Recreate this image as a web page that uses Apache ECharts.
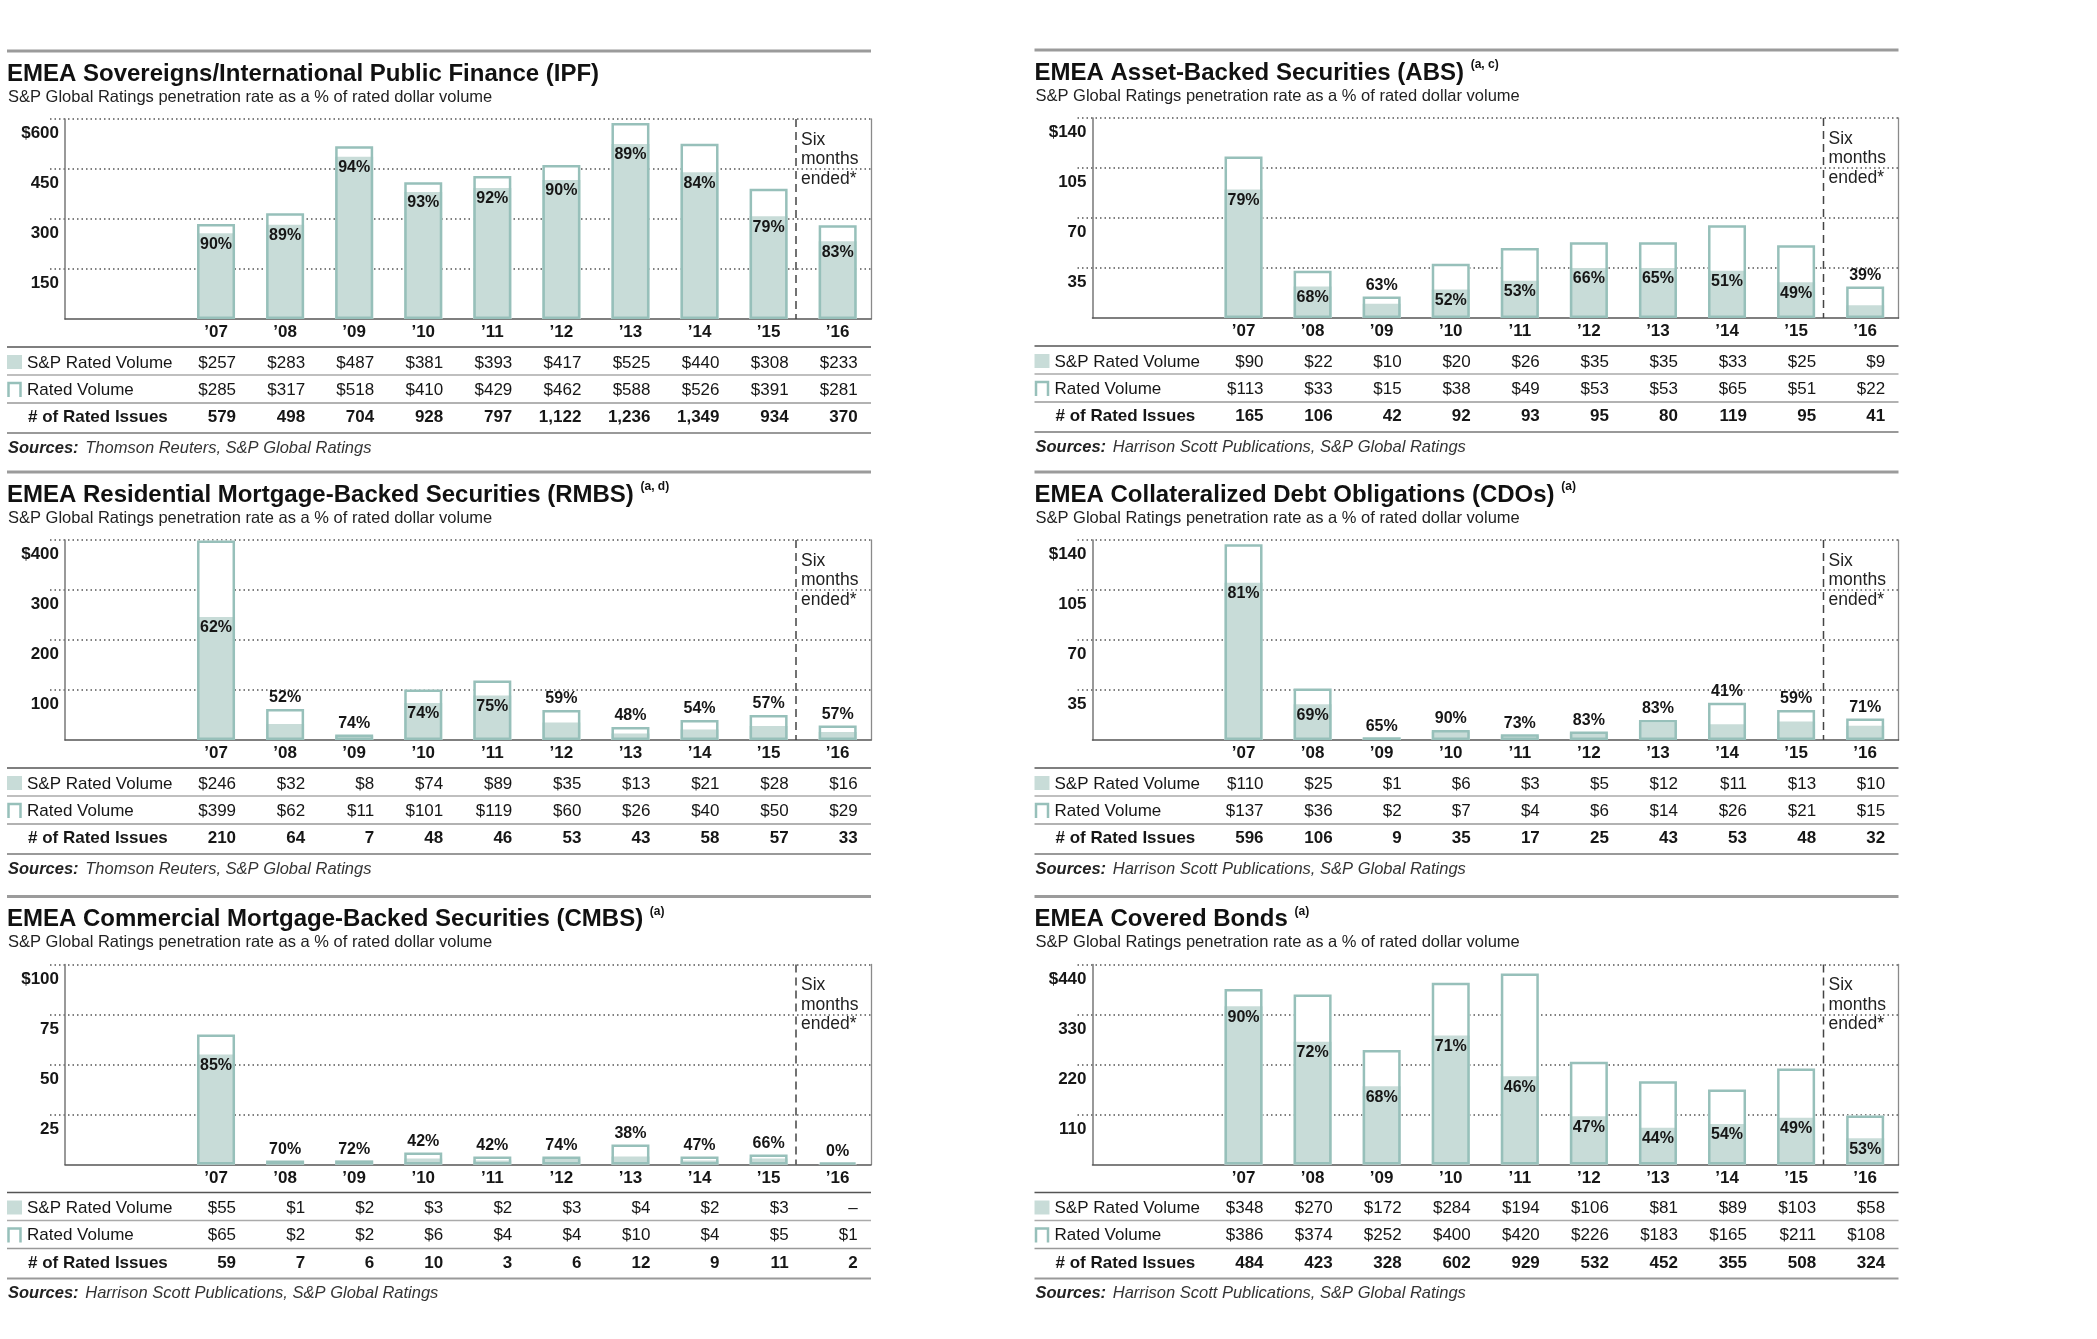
<!DOCTYPE html>
<html><head><meta charset="utf-8">
<script src="https://cdn.jsdelivr.net/npm/echarts@6/dist/echarts.min.js"></script>
<style>html,body{margin:0;padding:0;background:#fff}#c{width:2097px;height:1339px}</style>
</head><body><div id="c"></div>
<script>
// ---------- DATA ----------
const years = ['\u201907','\u201908','\u201909','\u201910','\u201911','\u201912','\u201913','\u201914','\u201915','\u201916'];

const ipfSp     = [257,283,487,381,393,417,525,440,308,233];
const ipfRated  = [285,317,518,410,429,462,588,526,391,281];
const ipfIssues = [579,498,704,928,797,1122,1236,1349,934,370];
const ipfPct    = [90,89,94,93,92,90,89,84,79,83];
const ipfTicks  = [0,150,300,450,600];

const absSp     = [90,22,10,20,26,35,35,33,25,9];
const absRated  = [113,33,15,38,49,53,53,65,51,22];
const absIssues = [165,106,42,92,93,95,80,119,95,41];
const absPct    = [79,68,63,52,53,66,65,51,49,39];
const absTicks  = [0,35,70,105,140];

const rmbsSp     = [246,32,8,74,89,35,13,21,28,16];
const rmbsRated  = [399,62,11,101,119,60,26,40,50,29];
const rmbsIssues = [210,64,7,48,46,53,43,58,57,33];
const rmbsPct    = [62,52,74,74,75,59,48,54,57,57];
const rmbsTicks  = [0,100,200,300,400];

const cdoSp     = [110,25,1,6,3,5,12,11,13,10];
const cdoRated  = [137,36,2,7,4,6,14,26,21,15];
const cdoIssues = [596,106,9,35,17,25,43,53,48,32];
const cdoPct    = [81,69,65,90,73,83,83,41,59,71];
const cdoTicks  = [0,35,70,105,140];

const cmbsSp     = [55,1,2,3,2,3,4,2,3,null];
const cmbsRated  = [65,2,2,6,4,4,10,4,5,1];
const cmbsIssues = [59,7,6,10,3,6,12,9,11,2];
const cmbsPct    = [85,70,72,42,42,74,38,47,66,0];
const cmbsTicks  = [0,25,50,75,100];

const cbSp     = [348,270,172,284,194,106,81,89,103,58];
const cbRated  = [386,374,252,400,420,226,183,165,211,108];
const cbIssues = [484,423,328,602,929,532,452,355,508,324];
const cbPct    = [90,72,68,71,46,47,44,54,49,53];
const cbTicks  = [0,110,220,330,440];

const panels = [
  {title:'EMEA Sovereigns/International Public Finance (IPF)', sup:'', src:'Thomson Reuters, S&P Global Ratings', sp:ipfSp, rated:ipfRated, issues:ipfIssues, pct:ipfPct, ticks:ipfTicks},
  {title:'EMEA Asset-Backed Securities (ABS)', sup:'(a, c)', src:'Harrison Scott Publications, S&P Global Ratings', sp:absSp, rated:absRated, issues:absIssues, pct:absPct, ticks:absTicks},
  {title:'EMEA Residential Mortgage-Backed Securities (RMBS)', sup:'(a, d)', src:'Thomson Reuters, S&P Global Ratings', sp:rmbsSp, rated:rmbsRated, issues:rmbsIssues, pct:rmbsPct, ticks:rmbsTicks},
  {title:'EMEA Collateralized Debt Obligations (CDOs)', sup:'(a)', src:'Harrison Scott Publications, S&P Global Ratings', sp:cdoSp, rated:cdoRated, issues:cdoIssues, pct:cdoPct, ticks:cdoTicks},
  {title:'EMEA Commercial Mortgage-Backed Securities (CMBS)', sup:'(a)', src:'Harrison Scott Publications, S&P Global Ratings', sp:cmbsSp, rated:cmbsRated, issues:cmbsIssues, pct:cmbsPct, ticks:cmbsTicks},
  {title:'EMEA Covered Bonds', sup:'(a)', src:'Harrison Scott Publications, S&P Global Ratings', sp:cbSp, rated:cbRated, issues:cbIssues, pct:cbPct, ticks:cbTicks}
];

// ---------- LAYOUT ----------
const layout = [{L:7,T:51},{L:1034.5,T:50},{L:7,T:472},{L:1034.5,T:472},{L:7,T:896.5},{L:1034.5,T:896.5}];
const W = 864;
const FONT = '"Liberation Sans", Arial, Helvetica, sans-serif';
const FILL = '#c8dcd8', FRAME = '#97c0ba', INK = '#161616';

const grid=[], xAxis=[], yAxis=[], series=[], graphic=[];

panels.forEach((p,i)=>{
  const {L,T} = layout[i];
  const max = p.ticks[p.ticks.length-1];
  const step = p.ticks[1]-p.ticks[0];
  const gA = grid.length; grid.push({left:L+43, top:T+68, width:W-43, height:200});
  const gB = grid.length; grid.push({left:L+58, top:T+68, width:W-58, height:200});
  const gC = grid.length; grid.push({left:L+174.5, top:T+68, width:690.7, height:200});

  // grid A : dotted gridlines + y labels
  xAxis.push({gridIndex:gA, type:'value', min:0, max:1, show:false});
  yAxis.push({gridIndex:gA, type:'value', min:0, max:max, interval:step, offset:-15,
    axisLine:{show:false}, axisTick:{show:false},
    axisLabel:{margin:6, verticalAlign:'top', padding:[6,0,0,0], fontFamily:FONT, fontSize:17, fontWeight:'bold', color:INK,
      formatter:v=> v===0 ? '' : (v===max ? '$'+v : String(v))},
    splitLine:{show:true, showMinLine:false, lineStyle:{type:[1.5,3], color:'#555', width:1.5}}});

  // grid B : solid axis lines (left, bottom, right frame)
  xAxis.push({gridIndex:gB, type:'value', min:0, max:1, axisLine:{show:true, onZero:false, lineStyle:{color:'#555', width:1.5}},
    axisTick:{show:false}, axisLabel:{show:false}, splitLine:{show:false}});
  yAxis.push({gridIndex:gB, type:'value', min:0, max:max, interval:step, axisLine:{show:true, lineStyle:{color:'#777', width:1.5}},
    axisTick:{show:false}, axisLabel:{show:false}, splitLine:{show:false}});
  yAxis.push({gridIndex:gB, type:'value', position:'right', min:0, max:max, interval:step, axisLine:{show:true, lineStyle:{color:'#8a8a8a', width:1.3}},
    axisTick:{show:false}, axisLabel:{show:false}, splitLine:{show:false}});

  // grid C : bars, years and table rows
  const xC = xAxis.length;
  xAxis.push({gridIndex:gC, type:'category', data:years, position:'bottom', axisLine:{show:false}, axisTick:{show:false},
    axisLabel:{interval:0, margin:13.5, verticalAlign:'middle', fontFamily:FONT, fontSize:17, fontWeight:'bold', color:INK}});
  const rowAxis = (data, margin, bold) => ({gridIndex:gC, type:'category', data:data, position:'bottom',
    axisLine:{show:false}, axisTick:{show:false},
    axisLabel:{interval:0, margin:margin, verticalAlign:'middle', formatter:v=>'{a|'+v+'}',
      rich:{a:{width:40, align:'right', fontFamily:FONT, fontSize:17, fontWeight:bold?'bold':'normal', color:INK}}}});
  xAxis.push(rowAxis(p.sp.map(v=> v==null ? '\u2013' : '$'+v), 44, false));
  xAxis.push(rowAxis(p.rated.map(v=>'$'+v), 71, false));
  xAxis.push(rowAxis(p.issues.map(v=>v.toLocaleString('en-US')), 98.5, true));
  const yC = yAxis.length;
  yAxis.push({gridIndex:gC, type:'value', min:0, max:max, interval:step, show:false});

  const inside = k => p.sp[k]!=null && p.sp[k]/max >= 0.11;
  const lbl = {fontFamily:FONT, fontSize:16, fontWeight:'bold', color:INK};
  series.push({type:'bar', xAxisIndex:xC, yAxisIndex:yC, data:p.rated, barWidth:38, barGap:'-100%', z:2, silent:true,
    itemStyle:{color:'#fff'}});
  series.push({type:'bar', xAxisIndex:xC, yAxisIndex:yC, barWidth:38, barGap:'-100%', z:3, silent:true,
    itemStyle:{color:FILL}, label:lbl,
    data:p.sp.map((v,k)=>({value:v, label:{show:inside(k), position:'insideTop', distance:3, formatter:p.pct[k]+'%'}}))});
  series.push({type:'bar', xAxisIndex:xC, yAxisIndex:yC, barWidth:38, barGap:'-100%', z:4, silent:true,
    itemStyle:{color:'rgba(0,0,0,0)', borderColor:FRAME, borderWidth:2.5}, label:lbl,
    data:p.rated.map((v,k)=>({value:v, label:{show:!inside(k), position:'top', distance:3, formatter:p.pct[k]+'%'}}))});

  // decorations
  graphic.push({type:'line', silent:true, shape:{x1:L, y1:T, x2:L+W, y2:T}, style:{stroke:'#9b9b9b', lineWidth:3}});
  graphic.push({type:'text', silent:true, x:L, y:T+23, style:{
    text: '{t|'+p.title+(p.sup?' ':'')+'}'+(p.sup?'{s|'+p.sup+'}':''),
    verticalAlign:'middle',
    rich:{t:{font:'bold 24px '+FONT, fill:'#111', lineHeight:28}, s:{font:'bold 12px '+FONT, fill:'#111', verticalAlign:'top', lineHeight:14}}}});
  graphic.push({type:'text', silent:true, x:L+1, y:T+46, style:{text:'S&P Global Ratings penetration rate as a % of rated dollar volume',
    font:'16.5px '+FONT, fill:'#222', verticalAlign:'middle'}});
  graphic.push({type:'line', silent:true, z:10, shape:{x1:L+789, y1:T+68, x2:L+789, y2:T+268}, style:{stroke:'#444', lineWidth:1.5, lineDash:[8,5]}});
  ['Six','months','ended*'].forEach((s,j)=>graphic.push({type:'text', silent:true, x:L+794, y:T+89+j*19.5,
    style:{text:s, font:'17.5px '+FONT, fill:'#222', verticalAlign:'middle'}}));
  [[296,'#555',1.5],[324,'#aaa',1.3],[352,'#999',1.6],[382,'#999',2]].forEach(a=>graphic.push({type:'line', silent:true,
    shape:{x1:L, y1:T+a[0], x2:L+W, y2:T+a[0]}, style:{stroke:a[1], lineWidth:a[2]}}));
  graphic.push({type:'rect', silent:true, shape:{x:L, y:T+304, width:15, height:14}, style:{fill:FILL}});
  graphic.push({type:'polyline', silent:true, shape:{points:[[L+1.5,T+346],[L+1.5,T+332],[L+13.5,T+332],[L+13.5,T+346]]},
    style:{stroke:FRAME, lineWidth:2.5, fill:null}});
  graphic.push({type:'text', silent:true, x:L+20, y:T+312, style:{text:'S&P Rated Volume', font:'17px '+FONT, fill:INK, verticalAlign:'middle'}});
  graphic.push({type:'text', silent:true, x:L+20, y:T+339, style:{text:'Rated Volume', font:'17px '+FONT, fill:INK, verticalAlign:'middle'}});
  graphic.push({type:'text', silent:true, x:L+21, y:T+366.5, style:{text:'# of Rated Issues', font:'bold 17px '+FONT, fill:INK, verticalAlign:'middle'}});
  graphic.push({type:'text', silent:true, x:L+1, y:T+397, style:{text:'{b|Sources:}  {r|'+p.src+'}', verticalAlign:'middle',
    rich:{b:{font:'italic bold 16.5px '+FONT, fill:'#222'}, r:{font:'italic 16.5px '+FONT, fill:'#333'}}}});
});

const chart = echarts.init(document.getElementById('c'), null, {renderer:'canvas'});
chart.setOption({animation:false, backgroundColor:'#fff', textStyle:{fontFamily:FONT}, grid, xAxis, yAxis, series, graphic});
</script></body></html>
